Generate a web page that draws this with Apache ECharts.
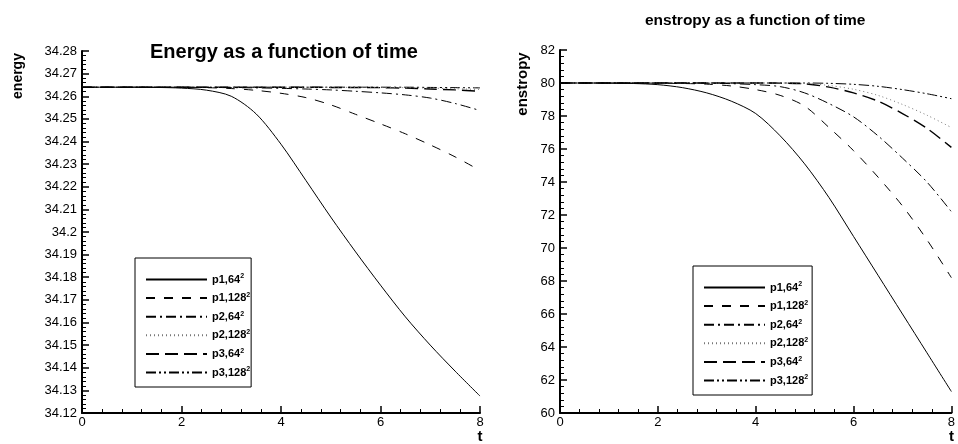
<!DOCTYPE html>
<html>
<head>
<meta charset="utf-8">
<script src="https://cdn.jsdelivr.net/npm/echarts@6/dist/echarts.min.js"></script>
<style>
  html, body { margin: 0; padding: 0; background: #fff; }
  #chart { width: 958px; height: 444px; }
</style>
</head>
<body>
<div id="chart"></div>
<script>
// time samples shared by all curves
const times = [0, 0.5, 1, 1.5, 2, 2.5, 3, 3.5, 4, 4.5, 5, 5.5, 6, 6.5, 7, 7.5, 8]

const names = ['p1,64', 'p1,128', 'p2,64', 'p2,128', 'p3,64', 'p3,128']

// energy (left panel)
const energyP1_64 = [34.2640, 34.2640, 34.2640, 34.2639, 34.2636, 34.2627, 34.2600, 34.2522, 34.2388, 34.2228, 34.2066, 34.1912, 34.1765, 34.1625, 34.1500, 34.1385, 34.1275]
const energyP1_128 = [34.2640, 34.2640, 34.2640, 34.2640, 34.2640, 34.2638, 34.2634, 34.2626, 34.2613, 34.2594, 34.2562, 34.2520, 34.2478, 34.2434, 34.2385, 34.2332, 34.2272]
const energyP2_64 = [34.2640, 34.2640, 34.2640, 34.2640, 34.2640, 34.2639, 34.2638, 34.2637, 34.2635, 34.2632, 34.2628, 34.2622, 34.2615, 34.2606, 34.2592, 34.2568, 34.2537]
const energyP2_128 = [34.2640, 34.2640, 34.2640, 34.2640, 34.2640, 34.2640, 34.2640, 34.2640, 34.2640, 34.2640, 34.2640, 34.2639, 34.2639, 34.2638, 34.2636, 34.2633, 34.2630]
const energyP3_64 = [34.2640, 34.2640, 34.2640, 34.2640, 34.2640, 34.2640, 34.2640, 34.2640, 34.2640, 34.2640, 34.2639, 34.2639, 34.2638, 34.2636, 34.2632, 34.2628, 34.2622]
const energyP3_128 = [34.2640, 34.2640, 34.2640, 34.2640, 34.2640, 34.2640, 34.2640, 34.2640, 34.2640, 34.2640, 34.2640, 34.2640, 34.2640, 34.2640, 34.2639, 34.2638, 34.2637]

// enstrophy (right panel)
const enstP1_64 = [80.00, 80.00, 79.99, 79.97, 79.90, 79.72, 79.40, 78.90, 78.15, 76.80, 75.10, 73.05, 70.70, 68.35, 66.00, 63.65, 61.30]
const enstP1_128 = [80.00, 80.00, 80.00, 80.00, 79.99, 79.97, 79.93, 79.82, 79.60, 79.25, 78.60, 77.30, 75.90, 74.30, 72.55, 70.50, 68.20]
const enstP2_64 = [80.00, 80.00, 80.00, 80.00, 80.00, 80.00, 79.99, 79.96, 79.90, 79.78, 79.40, 78.75, 77.95, 76.80, 75.45, 74.00, 72.20]
const enstP2_128 = [80.00, 80.00, 80.00, 80.00, 80.00, 80.00, 80.00, 80.00, 80.00, 80.00, 79.98, 79.85, 79.62, 79.25, 78.70, 78.05, 77.30]
const enstP3_64 = [80.00, 80.00, 80.00, 80.00, 80.00, 80.00, 80.00, 80.00, 80.00, 79.99, 79.95, 79.75, 79.40, 78.90, 78.15, 77.25, 76.10]
const enstP3_128 = [80.00, 80.00, 80.00, 80.00, 80.00, 80.00, 80.00, 80.00, 80.00, 80.00, 80.00, 79.98, 79.92, 79.80, 79.60, 79.35, 79.05]

const energyTicks = { min: 34.12, max: 34.28, interval: 0.01 }
const enstTicks = { min: 60, max: 82, interval: 2 }
const timeTicks = { min: 0, max: 8, interval: 2 }

const styles = [
  { type: 'solid', width: 1, color: '#000' },
  { type: [9, 9], width: 1, color: '#000' },
  { type: [10, 4, 2, 4], width: 1, color: '#000' },
  { type: [1, 3], width: 1, color: '#777' },
  { type: [13, 6], width: 1.4, color: '#000' },
  { type: [10, 3, 2, 3, 2, 3], width: 1, color: '#000' },
]

const energyData = [energyP1_64, energyP1_128, energyP2_64, energyP2_128, energyP3_64, energyP3_128]
const enstData = [enstP1_64, enstP1_128, enstP2_64, enstP2_128, enstP3_64, enstP3_128]

const font = 'Liberation Sans, Arial, Helvetica, sans-serif'

function xAxisFor(grid) {
  return {
    type: 'value',
    gridIndex: grid,
    ...timeTicks,
    name: 't',
    nameLocation: 'end',
    nameGap: 0,
    nameTextStyle: { color: '#000', fontFamily: font, fontWeight: 'bold', fontSize: 15, align: 'center', verticalAlign: 'top', padding: [16, 0, 0, 0] },
    axisLine: { lineStyle: { color: '#000', width: 2 } },
    axisTick: { inside: true, length: 7, lineStyle: { color: '#000', width: 1.5 } },
    minorTick: { show: true, splitNumber: 5, length: 4, lineStyle: { color: '#000' } },
    splitLine: { show: false },
    axisLabel: { color: '#000', fontFamily: font, fontSize: 13, margin: 3 },
  }
}

function yAxisFor(grid, ticks) {
  return {
    type: 'value',
    gridIndex: grid,
    ...ticks,
    axisLine: { show: true, lineStyle: { color: '#000', width: 2 } },
    axisTick: { show: true, inside: true, length: 7, lineStyle: { color: '#000', width: 1.5 } },
    minorTick: { show: true, splitNumber: 5, length: 4, lineStyle: { color: '#000' } },
    splitLine: { show: false },
    axisLabel: { color: '#000', fontFamily: font, fontSize: 13, margin: 5 },
  }
}

function seriesFor(data, grid) {
  return data.map((vals, i) => ({
    name: names[i],
    type: 'line',
    xAxisIndex: grid,
    yAxisIndex: grid,
    symbol: 'none',
    smooth: 0.3,
    silent: true,
    animation: false,
    lineStyle: styles[i],
    itemStyle: { color: styles[i].color },
    data: times.map((t, k) => [t, vals[k]]),
    z: 10 - i,
  }))
}

function legendFor(left, top, padRight) {
  return {
    data: names,
    left,
    top,
    orient: 'vertical',
    selectedMode: false,
    borderColor: '#000',
    borderWidth: 1,
    padding: [15, padRight, 9, 10],
    itemGap: 6.6,
    itemWidth: 61,
    itemHeight: 10,
    itemStyle: { opacity: 0 },
    formatter: (n) => n + '{s|2}',
    textStyle: {
      color: '#000',
      fontFamily: font,
      fontWeight: 'bold',
      fontSize: 11,
      rich: {
        s: { fontSize: 7, fontWeight: 'bold', fontFamily: font, color: '#000', verticalAlign: 'top', padding: [0, 0, 6, 0] },
      },
    },
  }
}

const chart = echarts.init(document.getElementById('chart'))
chart.setOption({
  animation: false,
  backgroundColor: '#fff',
  title: [
    {
      text: 'Energy as a function of time',
      left: 145,
      top: 37,
      textStyle: { fontFamily: font, fontWeight: 'bold', fontSize: 20, color: '#000' },
    },
    {
      text: 'enstropy as a function of time',
      left: 640,
      top: 8,
      textStyle: { fontFamily: font, fontWeight: 'bold', fontSize: 15.5, color: '#000' },
    },
  ],
  grid: [
    { left: 82, right: 478, top: 51, bottom: 31 },
    { left: 560, right: 5, top: 50, bottom: 31 },
  ],
  xAxis: [xAxisFor(0), xAxisFor(1)],
  yAxis: [yAxisFor(0, energyTicks), yAxisFor(1, enstTicks)],
  legend: [legendFor(135, 258, 1), legendFor(693, 266, 4)],
  graphic: [
    {
      type: 'text',
      x: 18,
      y: 76,
      rotation: Math.PI / 2,
      style: { text: 'energy', fontFamily: font, fontWeight: 'bold', fontSize: 14, fill: '#000', align: 'center', verticalAlign: 'middle' },
    },
    {
      type: 'text',
      x: 523,
      y: 84,
      rotation: Math.PI / 2,
      style: { text: 'enstropy', fontFamily: font, fontWeight: 'bold', fontSize: 15, fill: '#000', align: 'center', verticalAlign: 'middle' },
    },
  ],
  series: [...seriesFor(energyData, 0), ...seriesFor(enstData, 1)],
})
</script>
</body>
</html>
